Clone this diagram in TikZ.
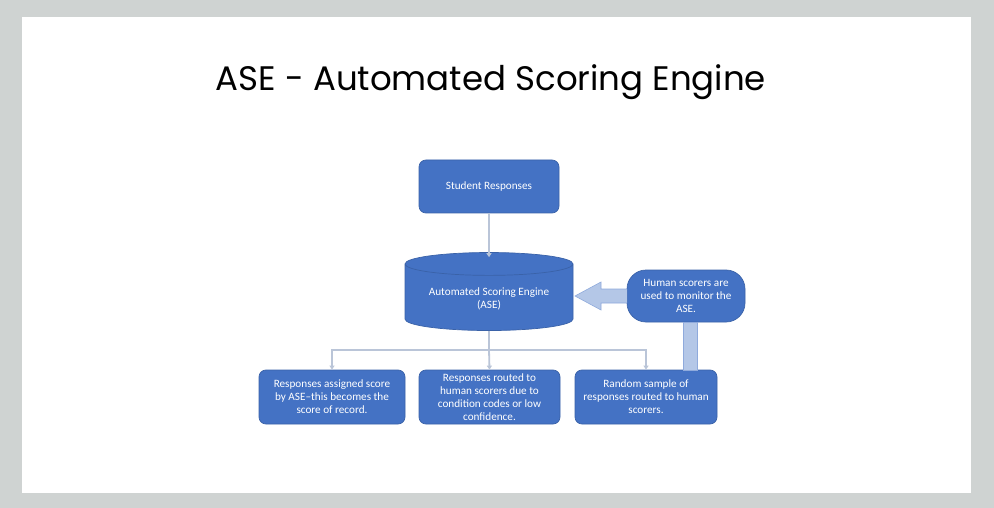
\documentclass[tikz,border=0pt]{standalone}
\usepackage{fontspec}
\setmainfont{Carlito}
\newfontfamily\titlefont{Poppins}
\usetikzlibrary{shapes.geometric,arrows.meta}
\definecolor{frame}{HTML}{CFD3D2}
\definecolor{boxfill}{HTML}{4472C4}
\definecolor{boxline}{HTML}{3A62A8}
\definecolor{conn}{HTML}{BAC5D8}
\definecolor{barfill}{HTML}{B4C7E7}
\definecolor{barline}{HTML}{8FAADC}
\begin{document}
\begin{tikzpicture}[x=1pt,y=-1pt,
  bluebox/.style={draw=boxline,line width=0.7pt,fill=boxfill,rounded corners=7pt,
    text=white,font=\fontsize{11.2}{13}\selectfont,align=center,inner sep=2pt},
  connline/.style={draw=conn,line width=1.8pt},
  connarrow/.style={connline,-{Triangle[length=4pt,width=5pt]}}]
\fill[frame] (0,0) rectangle (994,508);
\fill[white] (22,17) rectangle (971,493);
\useasboundingbox (0,0) rectangle (994,508);
\node[font=\titlefont\fontsize{34}{40}\selectfont] (title) at (491,82) {ASE - Automated Scoring Engine};
\node[bluebox,minimum width=140pt,minimum height=53pt] (student) at (489,186.5) {Student Responses};
\node[cylinder,shape border rotate=90,aspect=0.18,draw=boxline,line width=0.7pt,fill=boxfill,
  minimum width=168pt,minimum height=78pt,text=white,font=\fontsize{11.2}{13}\selectfont,align=center]
  (ase) at (489,299) {Automated Scoring Engine\\(ASE)};
\node[bluebox,rounded corners=19pt,minimum width=118pt,minimum height=52pt] (human) at (686,296) {Human scorers are\\used to monitor the\\ASE.};
\node[bluebox,minimum width=146pt,minimum height=54pt] (b1) at (332,397) {Responses assigned score\\by ASE--this becomes the\\score of record.};
\node[bluebox,minimum width=141pt,minimum height=54pt] (b2) at (489.5,397) {Responses routed to\\human scorers due to\\condition codes or low\\confidence.};
\node[bluebox,minimum width=142pt,minimum height=54pt] (b3) at (646,397) {Random sample of\\responses routed to human\\scorers.};
\coordinate (split) at (489,350);
\draw[connarrow,shorten >=-5pt] (student.south) -- (ase.top);
\draw[connline] (ase.bottom) -- (split);
\draw[connarrow] (split) -| (b1.north);
\draw[connarrow] (split) -- (b2.north);
\draw[connarrow] (split) -| (b3.north);
% vertical bar
\draw[draw=barline,fill=barfill,line width=0.6pt] (683,322) rectangle (697,370);
% block arrow
\draw[draw=barline,fill=barfill,line width=0.6pt]
  (627,289) -- (601,289) -- (601,282) -- (575,296) -- (601,310) -- (601,303) -- (627,303);
\end{tikzpicture}
\end{document}
